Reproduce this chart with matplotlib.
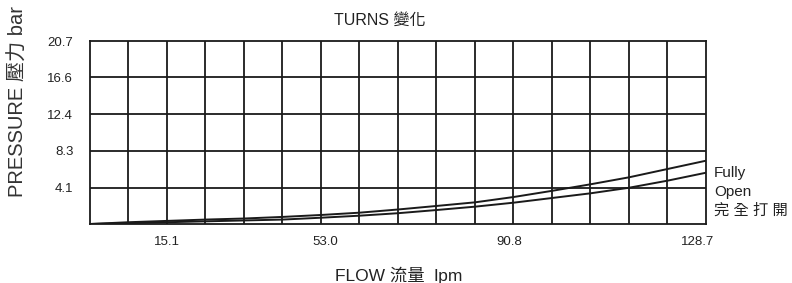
import matplotlib.pyplot as plt

plt.rcParams['font.family'] = ['Liberation Sans', 'Noto Sans CJK TC', 'DejaVu Sans']

# grid columns along the flow axis (16 equal columns)
cols = [0, 1, 2, 3, 4, 5, 6, 7, 8, 9, 10, 11, 12, 13, 14, 15, 16]
# pressure (bar)
upper = [0, 0.2, 0.35, 0.5, 0.62, 0.8, 1.02, 1.28, 1.64, 2.04, 2.45, 3.05, 3.75, 4.49, 5.28, 6.22, 7.16]
lower = [0, 0.1, 0.2, 0.3, 0.4, 0.5, 0.71, 0.94, 1.22, 1.58, 1.96, 2.41, 2.94, 3.47, 4.1, 4.9, 5.8]

y_ticks = [4.1, 8.3, 12.4, 16.6, 20.7]
x_tick_pos = [2.0, 6.1, 10.9, 15.77]
x_tick_labels = ['15.1', '53.0', '90.8', '128.7']

fig = plt.figure(figsize=(7.92, 2.83), dpi=100)
ax = fig.add_axes([0.1136, 0.2085, 0.7778, 0.6466])

# grid
for c in cols[1:-1]:
    ax.axvline(c, color='#1a1a1a', lw=1.3)
for v in y_ticks[:-1]:
    ax.axhline(v, color='#1a1a1a', lw=1.3)

ax.plot(cols, upper, color='#1a1a1a', lw=1.4)
ax.plot(cols, lower, color='#1a1a1a', lw=1.4)

ax.set_xlim(0, 16)
ax.set_ylim(0, 20.7)
ax.set_yticks(y_ticks)
ax.set_yticklabels([f'{v:.1f}' for v in y_ticks], fontsize=9.5, color='#222222')
ax.set_xticks(x_tick_pos)
ax.set_xticklabels(x_tick_labels, fontsize=9.5, color='#222222')
ax.tick_params(axis='both', which='both', length=0)
ax.tick_params(axis='x', pad=9)
ax.tick_params(axis='y', pad=12)

for s in ax.spines.values():
    s.set_color('#1a1a1a')
    s.set_linewidth(1.3)

fig.text(0.479, 0.928, 'TURNS 變化', ha='center', va='center', fontsize=11.5, color='#222222')
fig.text(0.503, 0.028, 'FLOW 流量  lpm', ha='center', va='center', fontsize=12.5, color='#222222')
fig.text(0.023, 0.64, 'PRESSURE 壓力 bar', ha='center', va='center', rotation=90,
         fontsize=14.5, color='#333333')
fig.text(0.9015, 0.39, 'Fully', ha='left', va='center', fontsize=11, color='#222222')
fig.text(0.9015, 0.323, 'Open', ha='left', va='center', fontsize=11, color='#222222')
fig.text(0.9015, 0.254, '完 全 打 開', ha='left', va='center', fontsize=11, color='#222222')

fig.savefig('out.png', dpi=100)
